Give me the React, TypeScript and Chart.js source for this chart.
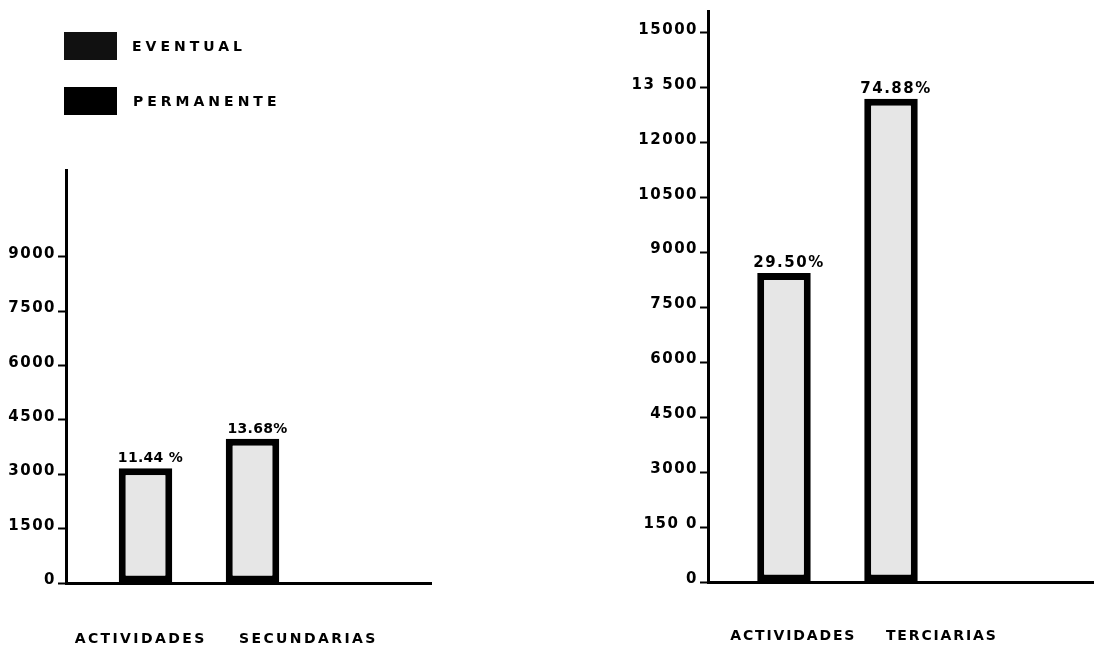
import React, { useEffect, useRef } from 'react';
import { Chart, registerables } from 'chart.js';

Chart.register(...registerables);

// ---------- data ----------
const seriesNames = ['EVENTUAL', 'PERMANENTE'];
const secondaryValues = [3170, 3980];
const secondaryPercents = ['11.44 %', '13.68%'];
const tertiaryValues = [8440, 13200];
const tertiaryPercents = ['29.50%', '74.88%'];
const secondaryTickValues = [0, 1500, 3000, 4500, 6000, 7500, 9000];
const secondaryTickLabels = ['0', '1500', '3000', '4500', '6000', '7500', '9000'];
const tertiaryTickValues = [0, 1500, 3000, 4500, 6000, 7500, 9000, 10500, 12000, 13500, 15000];
const tertiaryTickLabels = ['0', '150 0', '3000', '4500', '6000', '7500', '9000', '10500', '12000', '13 500', '15000'];
const secondaryTitle = 'ACTIVIDADES SECUNDARIAS';
const tertiaryTitle = 'ACTIVIDADES TERCIARIAS';

// ---------- styles ----------
const FONT = "'DejaVu Sans', sans-serif";
const legendColors = ['#111111', '#000000'];
const barFill = '#e6e6e6';

type PanelProps = {
  values: number[];
  percents: string[];
  tickValues: number[];
  tickLabels: string[];
  left: number;
  width: number;
  axisWidth: number;
  padTop: number;
  padBottom: number;
  padRight: number;
  yMax: number;
  xMin: number;
  xMax: number;
  pctFont: string;
  pctSpacing: string;
};

function Panel(p: PanelProps) {
  const ref = useRef<HTMLCanvasElement>(null);
  useEffect(() => {
    const spacingPlugin = {
      id: 'tickSpacing',
      beforeDraw(chart: any) {
        chart.ctx.letterSpacing = '1.5px';
      },
    };
    const pctPlugin = {
      id: 'pctLabels',
      afterDatasetsDraw(chart: any) {
        const ctx = chart.ctx;
        ctx.save();
        ctx.font = p.pctFont;
        ctx.letterSpacing = p.pctSpacing;
        ctx.fillStyle = '#000';
        ctx.textAlign = 'center';
        ctx.textBaseline = 'alphabetic';
        chart.data.datasets.forEach((_: any, i: number) => {
          const bar = chart.getDatasetMeta(i).data[0];
          if (!bar) return;
          ctx.fillText(p.percents[i], bar.x + 5, bar.y - 6);
        });
        ctx.restore();
      },
    };
    const chart = new Chart(ref.current as HTMLCanvasElement, {
      type: 'bar',
      data: {
        datasets: seriesNames.map((name, i) => ({
          label: name,
          data: [{ x: i + 1, y: p.values[i] }],
          backgroundColor: barFill,
          borderColor: '#000',
          borderWidth: 7,
          borderSkipped: false,
          grouped: false,
          barPercentage: 0.5,
          categoryPercentage: 1,
        })),
      } as any,
      options: {
        animation: false,
        responsive: false,
        events: [],
        layout: { padding: { top: p.padTop, bottom: p.padBottom, right: p.padRight, left: 0 } },
        plugins: { legend: { display: false }, tooltip: { enabled: false }, title: { display: false } },
        scales: {
          x: {
            type: 'linear',
            offset: false,
            min: p.xMin,
            max: p.xMax,
            afterBuildTicks: (axis: any) => {
              axis.ticks = seriesNames.map((_, i) => ({ value: i + 1 }));
            },
            ticks: { display: false },
            grid: { display: false, drawTicks: false },
            border: { display: true, color: '#000', width: 3 },
            afterFit: (s: any) => {
              s.height = 0;
            },
          },
          y: {
            type: 'linear',
            min: 0,
            max: p.yMax,
            afterBuildTicks: (axis: any) => {
              axis.ticks = p.tickValues.map((v) => ({ value: v }));
            },
            afterFit: (s: any) => {
              s.width = p.axisWidth;
            },
            ticks: {
              callback: (_v: any, i: number) => p.tickLabels[i],
              color: '#000',
              font: { family: FONT, size: 15, weight: 'bold' },
              padding: 2,
              labelOffset: -3,
            },
            grid: {
              display: true,
              drawOnChartArea: false,
              drawTicks: true,
              tickLength: 8,
              tickWidth: 2,
              tickColor: '#000',
            },
            border: { display: true, color: '#000', width: 3 },
          },
        },
      } as any,
      plugins: [spacingPlugin, pctPlugin],
    });
    return () => chart.destroy();
  }, []);
  return (
    <canvas
      ref={ref}
      width={p.width}
      height={647}
      style={{ position: 'absolute', left: p.left, top: 0, width: p.width, height: 647 }}
    />
  );
}

const titleStyle = (left: number, width: number, top: number, ls: number, ws: number): React.CSSProperties => ({
  position: 'absolute',
  left,
  top,
  width,
  textAlign: 'center',
  fontFamily: FONT,
  fontWeight: 'bold',
  fontSize: 14,
  lineHeight: '14px',
  letterSpacing: ls,
  wordSpacing: ws,
  paddingLeft: ls,
  boxSizing: 'border-box',
  color: '#000',
  whiteSpace: 'pre',
});

export default function App() {
  return (
    <div style={{ position: 'absolute', left: 0, top: 0, width: 1094, height: 647, background: '#fff', overflow: 'hidden' }}>
      <Panel
        values={secondaryValues}
        percents={secondaryPercents}
        tickValues={secondaryTickValues}
        tickLabels={secondaryTickLabels}
        left={0}
        width={450}
        axisWidth={66}
        padTop={170}
        padBottom={64}
        padRight={19}
        yMax={11400}
        xMin={0.257}
        xMax={3.668}
        pctFont={`bold 14px ${FONT}`}
        pctSpacing="0.3px"
      />
      <Panel
        values={tertiaryValues}
        percents={tertiaryPercents}
        tickValues={tertiaryTickValues}
        tickLabels={tertiaryTickLabels}
        left={632}
        width={462}
        axisWidth={76}
        padTop={10}
        padBottom={65}
        padRight={0}
        yMax={15600}
        xMin={0.29}
        xMax={3.897}
        pctFont={`bold 15px ${FONT}`}
        pctSpacing="1.5px"
      />
      {seriesNames.map((name, i) => (
        <div
          key={name}
          style={{ position: 'absolute', left: 64, top: i === 0 ? 32 : 87, height: 28, display: 'flex', alignItems: 'center' }}
        >
          <div style={{ width: 53, height: 28, background: legendColors[i] }} />
          <span
            style={{
              marginLeft: i === 0 ? 15 : 16,
              fontFamily: FONT,
              fontWeight: 'bold',
              fontSize: 14,
              letterSpacing: 4,
              color: '#000',
            }}
          >
            {name}
          </span>
        </div>
      ))}
      <div style={titleStyle(0, 450, 631, 2.4, 25)}>{secondaryTitle}</div>
      <div style={titleStyle(632, 462, 628, 1.85, 23)}>{tertiaryTitle}</div>
    </div>
  );
}
